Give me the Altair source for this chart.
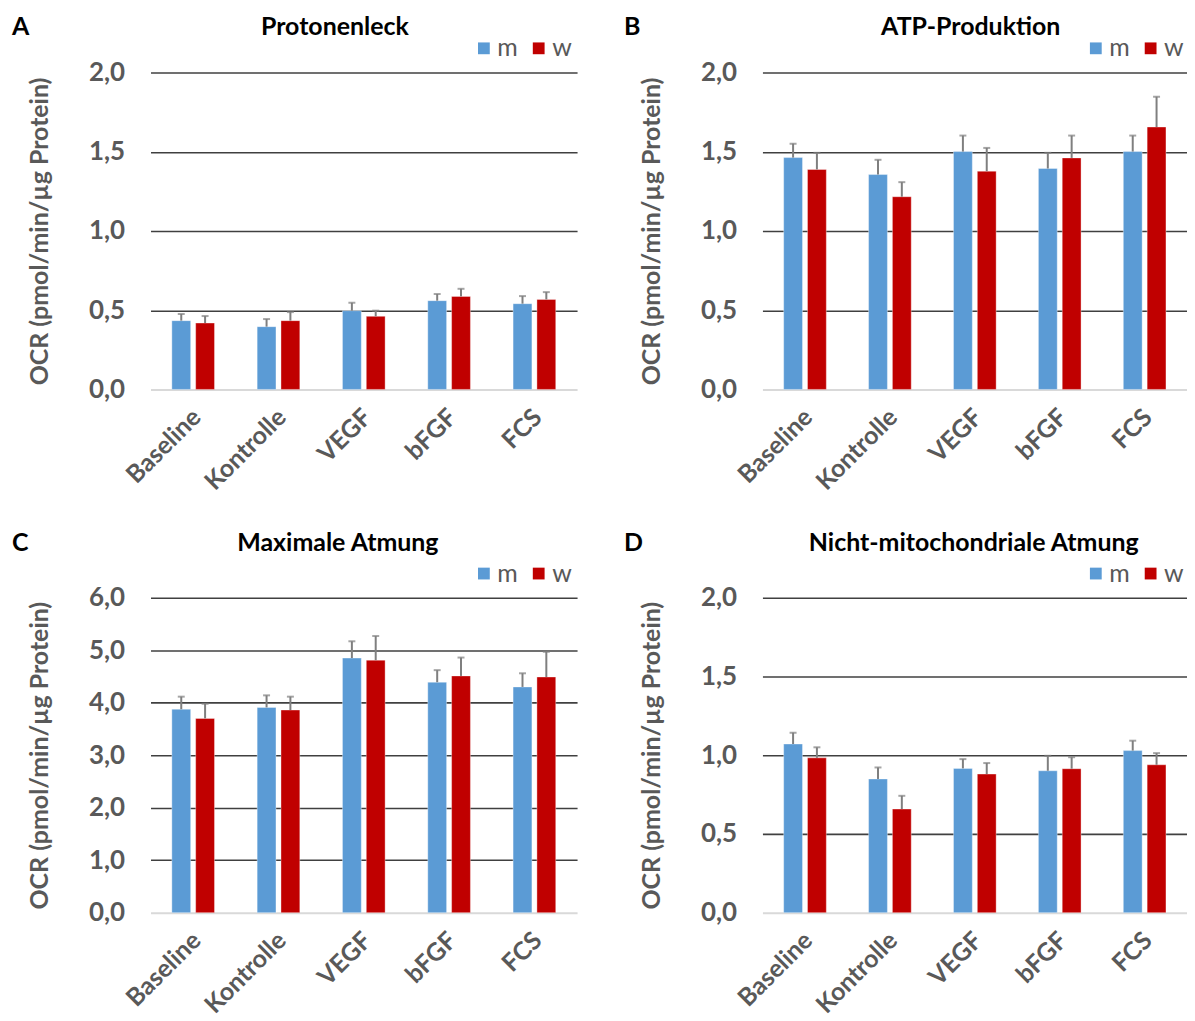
import altair as alt
import pandas as pd

categories = ["Baseline", "Kontrolle", "VEGF", "bFGF", "FCS"]
sexes = ["m", "w"]

# Panel A: Protonenleck
a_m = [0.434, 0.396, 0.497, 0.560, 0.541]
a_m_sd = [0.042, 0.048, 0.050, 0.042, 0.048]
a_w = [0.419, 0.434, 0.461, 0.587, 0.568]
a_w_sd = [0.044, 0.054, 0.036, 0.048, 0.046]

# Panel B: ATP-Produktion
b_m = [1.463, 1.356, 1.501, 1.394, 1.501]
b_m_sd = [0.088, 0.093, 0.101, 0.099, 0.101]
b_w = [1.388, 1.216, 1.377, 1.461, 1.656]
b_w_sd = [0.105, 0.092, 0.147, 0.141, 0.191]

# Panel C: Maximale Atmung
c_m = [3.875, 3.91, 4.85, 4.39, 4.30]
c_m_sd = [0.24, 0.23, 0.32, 0.23, 0.26]
c_w = [3.70, 3.86, 4.81, 4.51, 4.49]
c_w_sd = [0.28, 0.255, 0.46, 0.35, 0.48]

# Panel D: Nicht-mitochondriale Atmung
d_m = [1.071, 0.849, 0.916, 0.901, 1.029]
d_m_sd = [0.072, 0.073, 0.059, 0.095, 0.063]
d_w = [0.983, 0.658, 0.880, 0.914, 0.939]
d_w_sd = [0.067, 0.084, 0.070, 0.073, 0.074]

y_title = "OCR (pmol/min/µg Protein)"
BLUE = "#5B9BD5"
RED = "#C00000"
GREY = "#595959"
FONT = "Lato"


def panel(letter, title, m, m_sd, w, w_sd, ymax, ystep, title_cx, text_y, width, height):
    rows = []
    for i, c in enumerate(categories):
        rows.append({"cat": c, "sex": "m", "value": m[i], "hi": m[i] + m_sd[i]})
        rows.append({"cat": c, "sex": "w", "value": w[i], "hi": w[i] + w_sd[i]})
    df = pd.DataFrame(rows)
    base = alt.Chart(df)
    x = alt.X("cat:N", sort=categories, title=None,
              scale=alt.Scale(paddingInner=0.5, paddingOuter=0.25),
              axis=alt.Axis(labelAngle=-45, labelFont=FONT, labelFontSize=25,
                            labelFontWeight="bold", labelColor=GREY, labelPadding=15,
                            labelOffset=-5,
                            ticks=False, domain=True, domainColor="#D9D9D9",
                            domainWidth=2, grid=False))
    xo = alt.XOffset("sex:N", sort=sexes, scale=alt.Scale(paddingInner=0.21))
    ticks = [round(i * ystep, 4) for i in range(int(round(ymax / ystep)) + 1)]
    y = alt.Y("value:Q", title=y_title,
              scale=alt.Scale(domain=[0, ymax], nice=False),
              axis=alt.Axis(values=ticks,
                            labelExpr="replace(format(datum.value, '.1f'), '.', ',')",
                            labelFont=FONT, labelFontSize=26, labelFontWeight="bold",
                            labelColor=GREY, labelPadding=26, ticks=False, domain=False,
                            titleFont=FONT, titleFontSize=25, titleFontWeight="bold",
                            titleColor=GREY, titlePadding=36,
                            grid=True, gridWidth=1.6,
                            gridColor={"condition": {"test": "datum.value === 0", "value": "transparent"},
                                       "value": "#404040"}))
    bars = base.mark_bar(stroke="white", strokeWidth=0.6, strokeOpacity=0.6).encode(
        x=x, xOffset=xo, y=y,
        color=alt.Color("sex:N", scale=alt.Scale(domain=sexes, range=[BLUE, RED]),
                        legend=alt.Legend(orient="none", legendX=322, legendY=-37,
                                          direction="horizontal", title=None,
                                          symbolType="square", symbolSize=140,
                                          symbolStrokeWidth=0, labelFont=FONT,
                                          labelFontSize=25, labelColor=GREY,
                                          labelOffset=1, columnPadding=8, padding=0)))
    err = base.mark_rule(color="#7F7F7F", strokeWidth=2).encode(
        x=x, xOffset=xo, y="value:Q", y2="hi:Q")
    cap = base.mark_tick(color="#7F7F7F", thickness=2, size=7, orient="horizontal").encode(
        x=x, xOffset=xo, y="hi:Q")
    lt = alt.Chart(pd.DataFrame({"t": [letter]})).mark_text(
        align="left", baseline="top", font=FONT, fontSize=25, fontWeight="bold",
        color="black").encode(x=alt.value(-139), y=alt.value(text_y), text="t:N")
    tt = alt.Chart(pd.DataFrame({"t": [title]})).mark_text(
        align="center", baseline="top", font=FONT, fontSize=25, fontWeight="bold",
        color="black").encode(x=alt.value(title_cx), y=alt.value(text_y), text="t:N")
    return alt.layer(bars, err, cap, lt, tt).properties(width=width, height=height)


pA = panel("A", "Protonenleck", a_m, a_m_sd, a_w, a_w_sd, 2.0, 0.5, 185, -58, 428, 318)
pB = panel("B", "ATP-Produktion", b_m, b_m_sd, b_w, b_w_sd, 2.0, 0.5, 209, -58, 426, 318)
pC = panel("C", "Maximale Atmung", c_m, c_m_sd, c_w, c_w_sd, 6.0, 1.0, 188, -67, 428, 316)
pD = panel("D", "Nicht-mitochondriale Atmung", d_m, d_m_sd, d_w, d_w_sd, 2.0, 0.5, 212, -67, 426, 316)

chart = alt.vconcat(
    alt.hconcat(pA, pB, spacing=47).resolve_scale(color="independent"),
    alt.hconcat(pC, pD, spacing=47).resolve_scale(color="independent"),
    spacing=36,
).resolve_scale(color="independent").properties(
    padding={"left": 4, "top": 5, "right": 0, "bottom": 0},
    background="white",
).configure_view(stroke=None)

chart.save("out.html", embed_options={"renderer": "svg", "actions": False})
